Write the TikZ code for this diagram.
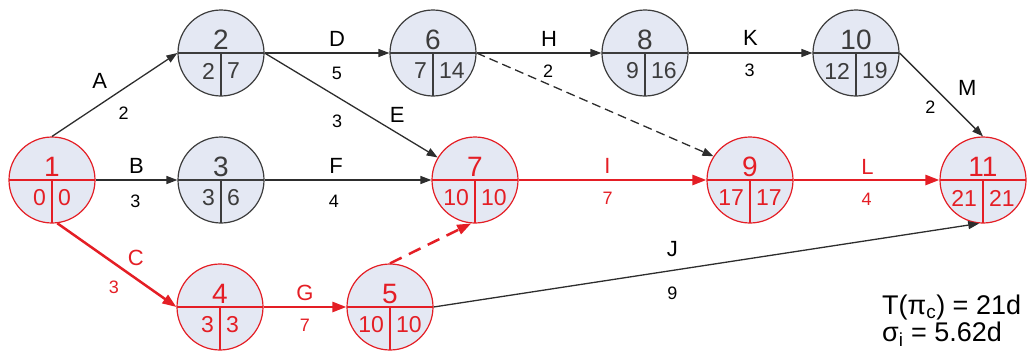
\documentclass[tikz,border=0pt]{standalone}
\usepackage{fontspec}
\setmainfont{Liberation Sans}
\usetikzlibrary{arrows.meta}
\definecolor{evfill}{RGB}{228,232,243}
\definecolor{evline}{RGB}{60,60,60}
\definecolor{evred}{RGB}{228,30,37}
\definecolor{actgray}{RGB}{45,45,45}
\newcommand\evbig{\fontsize{28}{30}\selectfont}
\newcommand\evsmall{\fontsize{23}{25}\selectfont}
\newcommand\tagfont{\fontsize{22}{24}\selectfont}
\newcommand\durfont{\fontsize{18}{20}\selectfont}
\begin{document}
\begin{tikzpicture}[x=1pt,y=-1pt]
  \tikzset{ev/.style n args={4}{circle,draw=#1,fill=evfill,line width=1.2pt,minimum size=86pt,inner sep=0pt,
      label={[text=#1,font=\evbig,inner sep=0pt,yshift=13pt]center:#2},
      label={[text=#1,font=\evsmall,inner sep=0pt,xshift=-6pt,yshift=-18pt]center:\makebox[0pt][r]{#3}},
      label={[text=#1,font=\evsmall,inner sep=0pt,xshift=6pt,yshift=-18pt]center:\makebox[0pt][l]{#4}},
      path picture={\draw[#1,line width=1.2pt] (path picture bounding box.west) -- (path picture bounding box.east)
        (path picture bounding box.center) -- (path picture bounding box.south);}},
    act/.style={draw=actgray,line width=1.3pt,-{Triangle[length=11pt,width=8pt]}},
    crit/.style={draw=evred,line width=2.5pt,-{Triangle[length=14pt,width=10pt]}},
    tag/.style={font=\tagfont,inner sep=0pt,text=#1}, tag/.default=black,
    dur/.style={font=\durfont,inner sep=0pt,text=#1}, dur/.default=black}
  \useasboundingbox (0,0) rectangle (1030,356);
  % events
  \node[ev={evred}{1}{0}{0}] (n1) at (52,180) {};
  \node[ev={evline}{2}{2}{7}] (n2) at (221,53) {};
  \node[ev={evline}{3}{3}{6}] (n3) at (221,180) {};
  \node[ev={evred}{4}{3}{3}] (n4) at (220,307) {};
  \node[ev={evred}{5}{10}{10}] (n5) at (390,307) {};
  \node[ev={evline}{6}{7}{14}] (n6) at (433,53) {};
  \node[ev={evred}{7}{10}{10}] (n7) at (475,180) {};
  \node[ev={evline}{8}{9}{16}] (n8) at (645,53) {};
  \node[ev={evred}{9}{17}{17}] (n9) at (750,180) {};
  \node[ev={evline}{10}{12}{19}] (n10) at (856,53) {};
  \node[ev={evred}{11}{21}{21}] (n11) at (983,180) {};
  % activities
  \draw[act] (n1.north) -- (n2.west) node[tag,midway,shift={(-15,-14)}] {A} node[dur,midway,shift={(9,19)}] {2};
  \draw[act] (n1.east) -- (n3.west) node[tag,midway,shift={(0,-14)}] {B} node[dur,midway,shift={(-1,21)}] {3};
  \draw[crit] (n1.277) -- (n4.west) node[tag=evred,midway,shift={(19,-7)}] {C} node[dur=evred,midway,shift={(-3,22)}] {3};
  \draw[act] (n2.east) -- (n6.west) node[tag,midway,shift={(10,-14)}] {D} node[dur,midway,shift={(10,20)}] {5};
  \draw[act] (n2.east) -- (n7) node[tag,midway,shift={(46,10)}] {E} node[dur,midway,shift={(-14,16)}] {3};
  \draw[act] (n3.east) -- (n7.west) node[tag,midway,shift={(-12,-14)}] {F} node[dur,midway,shift={(-14,21)}] {4};
  \draw[crit] (n4.east) -- (n5.west) node[tag=evred,midway,shift={(0,-14)}] {G} node[dur=evred,midway,shift={(0,18)}] {7};
  \draw[crit,dash pattern=on 13pt off 8pt] (n5.north) -- (n7.265);
  \draw[act] (n5.east) -- (n11.265) node[tag,midway,shift={(-34,-16)}] {J} node[dur,midway,shift={(-34,28)}] {9};
  \draw[act] (n6.east) -- (n8.west) node[tag,midway,shift={(10,-14)}] {H} node[dur,midway,shift={(9,18)}] {2};
  \draw[act,dash pattern=on 9pt off 5pt] (n6.east) -- (n9.147);
  \draw[crit] (n7.east) -- (n9.west) node[tag=evred,midway,shift={(-5,-14)}] {I} node[dur=evred,midway,shift={(-5,18)}] {7};
  \draw[act] (n8.east) -- (n10.west) node[tag,midway,shift={(0,-15)}] {K} node[dur,midway,shift={(-1,17)}] {3};
  \draw[crit] (n9.east) -- (n11.west) node[tag=evred,midway,shift={(1,-13)}] {L} node[dur=evred,midway,shift={(0,19)}] {4};
  \draw[act] (n10.east) -- (n11.north) node[tag,midway,shift={(26,-7)}] {M} node[dur,midway,shift={(-11,13)}] {2};
  % result
  \node[font=\fontsize{27}{27}\selectfont,align=left,anchor=north west,inner sep=0pt] (res) at (882,295)
    {T(π\textsubscript{c}) = 21d\\σ\textsubscript{i} = 5.62d};
\end{tikzpicture}
\end{document}
